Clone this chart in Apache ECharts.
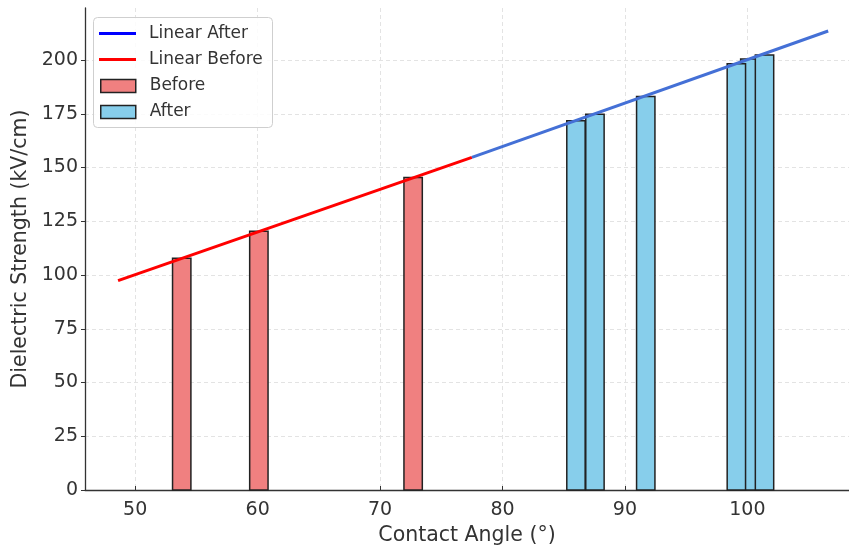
<!DOCTYPE html>
<html>
<head>
<meta charset="utf-8">
<script src="https://cdn.jsdelivr.net/npm/echarts@6/dist/echarts.min.js"></script>
<style>
html,body{margin:0;padding:0;background:#fff;}
#chart{width:849px;height:546px;}
</style>
</head>
<body>
<div id="chart"></div>
<script>
// Data
const beforeAngles = [53.8, 60.1, 72.7];
const beforeStrength = [107.8, 120.3, 145.4];
// after bars listed in drawing order (the 100.2 bar sits behind its neighbours)
const afterAngles = [86.0, 87.55, 91.7, 100.2, 99.1, 101.4];
const afterStrength = [171.8, 174.8, 183.0, 200.5, 198.3, 202.3];
const linearBeforeX = [48.6, 77.5];
const linearBeforeY = [97.4, 154.7];
const linearAfterX = [77.5, 106.6];
const linearAfterY = [154.7, 213.5];

const BAR_WIDTH = 1.5; // in x-axis units
const FONT = 'DejaVu Sans';

function zip(a, b) { return a.map((v, i) => [v, b[i]]); }

function barRender(fill) {
  return function (params, api) {
    const x = api.value(0), y = api.value(1);
    const p0 = api.coord([x - BAR_WIDTH / 2, y]);
    const p1 = api.coord([x + BAR_WIDTH / 2, 0]);
    return {
      type: 'rect',
      shape: { x: p0[0], y: p0[1], width: p1[0] - p0[0], height: p1[1] - p0[1] },
      style: { fill: fill, stroke: '#222', lineWidth: 1.5 }
    };
  };
}

const chart = echarts.init(document.getElementById('chart'), null, { renderer: 'canvas' });

const axisText = { color: '#333', fontFamily: FONT, fontSize: 19 };
const GRID_COLOR = '#e3e3e3';
const yGridColors = [GRID_COLOR, GRID_COLOR, GRID_COLOR, GRID_COLOR, GRID_COLOR,
  GRID_COLOR, GRID_COLOR, GRID_COLOR, GRID_COLOR, 'rgba(0,0,0,0)'];

chart.setOption({
  animation: false,
  backgroundColor: '#fff',
  grid: { left: 85, right: 0, top: 8, bottom: 56, containLabel: false, outerBoundsMode: 'none' },
  graphic: [{
    type: 'rect', left: 93, top: 17, z: 90,
    shape: { width: 179, height: 110, r: 4 },
    style: { fill: 'rgba(255,255,255,0.85)', stroke: '#cfcfcf', lineWidth: 1 }
  }],
  legend: [{
    orient: 'vertical', left: 94, top: 20, z: 100,
    itemWidth: 37, itemHeight: 3, itemGap: 9,
    textStyle: { color: '#333', fontFamily: FONT, fontSize: 17, padding: [0, 0, 0, 8] },
    data: [
      { name: 'Linear After', icon: 'rect', itemStyle: { color: '#0000ff', borderWidth: 0 } },
      { name: 'Linear Before', icon: 'rect', itemStyle: { color: '#ff0000', borderWidth: 0 } }
    ]
  }, {
    orient: 'vertical', left: 95, top: 72.5, z: 100,
    itemWidth: 35, itemHeight: 13, itemGap: 9,
    textStyle: { color: '#333', fontFamily: FONT, fontSize: 17, padding: [0, 0, 0, 9] },
    data: [
      { name: 'Before', icon: 'rect', itemStyle: { color: '#f08080', borderColor: '#222', borderWidth: 1.5 } },
      { name: 'After', icon: 'rect', itemStyle: { color: '#87ceeb', borderColor: '#222', borderWidth: 1.5 } }
    ]
  }],
  xAxis: {
    type: 'value', min: 45.9, max: 108.3,
    name: 'Contact Angle (°)', nameLocation: 'middle', nameGap: 33,
    nameTextStyle: { color: '#333', fontFamily: FONT, fontSize: 20.5 },
    axisLine: { show: true, lineStyle: { color: '#333', width: 1.3 } },
    axisTick: { show: true, inside: true, length: 4, lineStyle: { color: '#333' } },
    axisLabel: Object.assign({ margin: 11, showMinLabel: false, showMaxLabel: false }, axisText),
    splitLine: { show: true, lineStyle: { color: GRID_COLOR, width: 1, type: [4, 3] } }
  },
  yAxis: {
    type: 'value', min: 0, max: 224.2, interval: 25,
    name: 'Dielectric Strength (kV/cm)', nameLocation: 'middle', nameGap: 51,
    nameTextStyle: { color: '#333', fontFamily: FONT, fontSize: 20.5 },
    axisLine: { show: true, lineStyle: { color: '#333', width: 1.3 } },
    axisTick: { show: true, inside: false, length: 4, lineStyle: { color: '#333' } },
    axisLabel: Object.assign({ margin: 7, showMaxLabel: false }, axisText),
    splitLine: { show: true, lineStyle: { color: yGridColors, width: 1, type: [4, 3] } }
  },
  series: [
    {
      name: 'Before', type: 'custom', z: 2,
      itemStyle: { color: '#f08080', borderColor: '#222', borderWidth: 1.5 },
      encode: { x: 0, y: 1 },
      renderItem: barRender('#f08080'),
      data: zip(beforeAngles, beforeStrength)
    },
    {
      name: 'After', type: 'custom', z: 2,
      itemStyle: { color: '#87ceeb', borderColor: '#222', borderWidth: 1.5 },
      encode: { x: 0, y: 1 },
      renderItem: barRender('#87ceeb'),
      data: zip(afterAngles, afterStrength)
    },
    {
      name: 'Linear Before', type: 'line', z: 5, showSymbol: false,
      itemStyle: { color: '#ff0000' },
      lineStyle: { color: '#ff0000', width: 3 },
      data: zip(linearBeforeX, linearBeforeY)
    },
    {
      name: 'Linear After', type: 'line', z: 5, showSymbol: false,
      itemStyle: { color: '#0000ff' },
      lineStyle: { color: '#4470d6', width: 3 },
      data: zip(linearAfterX, linearAfterY)
    }
  ]
});
</script>
</body>
</html>
